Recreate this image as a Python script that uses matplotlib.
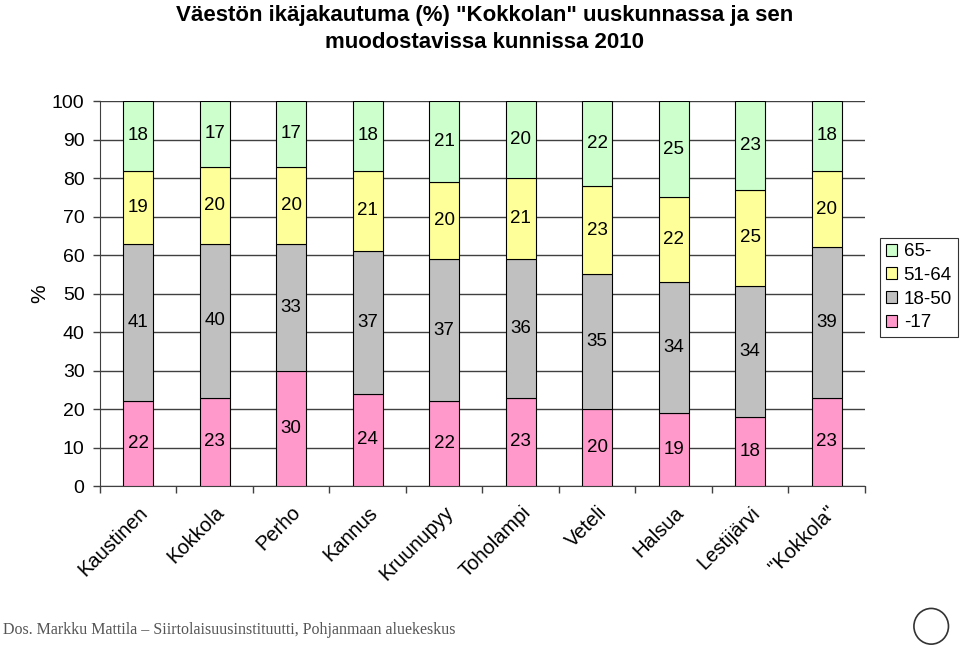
import matplotlib.pyplot as plt
import matplotlib.patches as mpatches
import numpy as np

plt.rcParams['font.family'] = ['Liberation Sans', 'DejaVu Sans']

kunnat = ['Kaustinen', 'Kokkola', 'Perho', 'Kannus', 'Kruunupyy', 'Toholampi',
          'Veteli', 'Halsua', 'Lestijärvi', '"Kokkola"']
ika_17 = [22, 23, 30, 24, 22, 23, 20, 19, 18, 23]
ika_18_50 = [41, 40, 33, 37, 37, 36, 35, 34, 34, 39]
ika_51_64 = [19, 20, 20, 21, 20, 21, 23, 22, 25, 20]
ika_65 = [18, 17, 17, 18, 21, 20, 22, 25, 23, 18]

sarjat = [('-17', ika_17, '#FF99CC'),
          ('18-50', ika_18_50, '#C0C0C0'),
          ('51-64', ika_51_64, '#FFFF99'),
          ('65-', ika_65, '#CCFFCC')]

fig = plt.figure(figsize=(9.6, 6.49), dpi=100)
ax = fig.add_axes([0.104, 0.251, 0.797, 0.593])

x = np.arange(len(kunnat))
pohja = np.zeros(len(kunnat))
palkit = []
for nimi, arvot, vari in sarjat:
    b = ax.bar(x, arvot, 0.39, bottom=pohja, color=vari, edgecolor='black',
               linewidth=0.8, label=nimi, zorder=3)
    palkit.append(b)
    for xi, p, v in zip(x, pohja, arvot):
        ax.text(xi, p + v / 2, str(v), ha='center', va='center', fontsize=13.5, zorder=4)
    pohja = pohja + np.array(arvot)

ax.set_xlim(-0.5, len(kunnat) - 0.5)
ax.set_ylim(0, 100)
ax.set_yticks(range(0, 101, 10))
ax.tick_params(axis='y', labelsize=14, length=5, width=1, color='#404040', pad=6)
ax.yaxis.grid(True, color='#404040', linewidth=1, zorder=0)
ax.set_xticks(x)
ax.set_xticklabels(kunnat, rotation=45, ha='right', rotation_mode='anchor', fontsize=14.5)
ax.set_xticks(np.arange(-0.5, len(kunnat)), minor=True)
ax.tick_params(axis='x', which='major', length=0, pad=12)
ax.tick_params(axis='x', which='minor', length=5, width=1, color='#404040')
for s in ['top', 'right']:
    ax.spines[s].set_visible(False)
for s in ['left', 'bottom']:
    ax.spines[s].set_color('#404040')
ax.set_ylabel('%', fontsize=15, labelpad=2)

kahvat = palkit[::-1]
leg = ax.legend(kahvat, [s[0] for s in sarjat][::-1], loc='upper left',
                bbox_to_anchor=(1.02, 0.645), fontsize=13.5, frameon=True,
                fancybox=False, edgecolor='black', handlelength=0.6,
                handleheight=0.6, handletextpad=0.35, borderpad=0.3,
                labelspacing=0.35, borderaxespad=0)
leg.get_frame().set_linewidth(0.8)

fig.text(0.505, 0.955, 'Väestön ikäjakautuma (%) "Kokkolan" uuskunnassa ja sen\nmuodostavissa kunnissa 2010',
         ha='center', va='center', fontsize=16, fontweight='bold', linespacing=1.35)
fig.text(0.003, 0.03, 'Dos. Markku Mattila – Siirtolaisuusinstituutti, Pohjanmaan aluekeskus',
         fontsize=11.5, family='Liberation Serif', color='#555555', va='center')

# pieni logo oikeassa alakulmassa
logo = mpatches.Ellipse((0.97, 0.035), 0.036, 0.055, transform=fig.transFigure,
                        fill=False, edgecolor='#333333', linewidth=1.2)
fig.patches.append(logo)

fig.savefig('out.png', dpi=100)
